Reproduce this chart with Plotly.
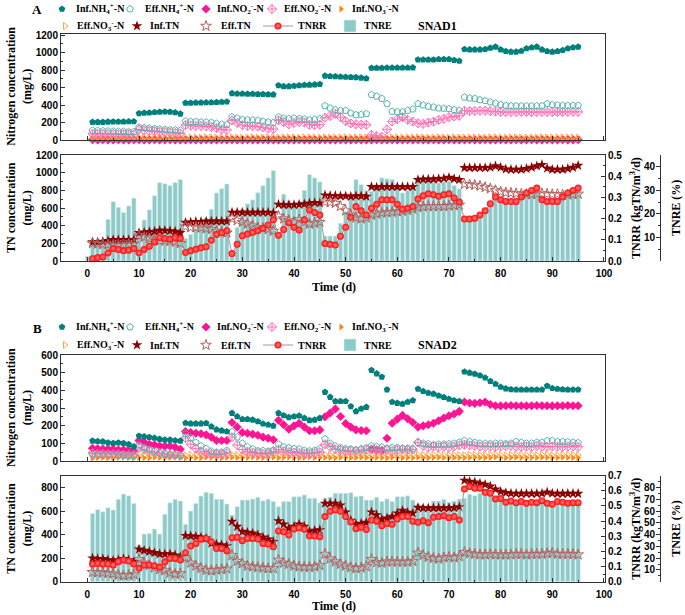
import plotly.graph_objects as go

W, H = 685, 615

# ---------------- data ----------------
days = list(range(1, 96))
days_tnre_a = list(range(0, 96))
days_tnre_b = list(range(1, 96))

# Reactor A (SNAD1)
a_inf_nh4 = [205,205,205,208,210,210,210,212,212,
             305,310,312,318,322,325,322,315,300,
             425,425,428,428,430,430,432,435,438,
             535,530,530,528,528,525,525,522,520,
             625,615,615,620,625,630,632,635,640,
             735,730,728,725,722,720,718,712,705,
             825,825,825,828,828,828,828,828,830,
             920,920,920,920,925,925,925,915,905,
             1040,1036,1036,1036,1040,1055,1067,1036,1017,1010,1010,1020,1048,1060,1067,1036,1017,1010,1017,1028,1048,1060,1067]
a_eff_nh4 = [110,108,105,102,100,100,98,95,95,
             145,140,135,130,125,120,115,115,110,
             215,210,210,205,205,200,190,180,175,
             265,250,235,230,230,225,215,205,200,
             265,250,245,250,245,240,230,235,245,
             392,365,346,338,338,308,288,292,300,
             520,500,475,415,327,323,323,338,354,
             415,400,385,377,365,362,358,346,338,
             490,480,475,460,450,435,420,405,395,390,390,390,390,390,390,390,415,405,400,395,395,395,395]
a_inf_no2 = [3,2,3,2,2,3,2,2,3, 3,2,2,3,2,2,3,2,2, 2,3,2,2,3,2,2,3,2,
             3,2,2,3,2,2,3,2,2, 2,3,2,2,3,2,2,3,2, 3,2,2,3,2,2,3,2,2,
             2,3,2,2,3,2,2,3,2, 3,2,2,3,2,2,3,2,2,
             2,3,2,2,3,2,2,3,2,2,3,2,2,3,2,2,3,2,2,3,2,2,3]
a_eff_no2 = [70,70,70,68,68,66,66,65,60,
             120,110,105,100,95,90,85,80,75,
             170,165,160,160,155,150,135,120,115,
             225,195,170,160,160,155,145,130,125,
             225,205,180,195,205,200,175,170,175,
             255,275,300,262,215,190,180,175,175,
             58,46,38,123,211,239,262,231,211,
             192,185,200,211,231,242,262,269,277,
             335,330,332,335,335,330,325,322,320,320,320,322,322,320,320,320,320,320,322,322,322,322,322]
a_inf_no3 = [8,9,10,9,8,10,11,9,8, 10,9,8,10,11,9,8,10,9, 9,10,8,9,11,10,9,8,10,
             10,9,8,10,9,11,10,9,8, 9,10,11,9,8,10,9,10,11, 10,9,8,10,9,10,11,9,8,
             9,10,8,9,10,11,9,10,8, 10,9,11,10,8,9,10,11,9,
             9,10,11,9,8,10,9,10,11,9,8,10,9,10,11,10,9,8,10,9,10,11,9]
a_eff_no3 = [25,28,30,27,26,29,31,28,27, 30,28,27,31,29,28,30,32,29, 27,30,29,28,31,30,28,27,30,
             31,29,28,30,32,29,28,30,31, 28,30,31,29,27,30,32,29,28, 30,29,27,31,30,28,29,31,30,
             28,30,29,27,31,30,28,30,29, 31,29,28,30,31,29,28,30,29,
             28,30,31,29,28,30,32,29,28,30,31,29,28,30,29,31,30,28,29,31,30,29,28]
a_inf_tn = [215,215,220,230,240,240,240,240,240,
            320,325,330,335,345,345,340,335,320,
            435,440,445,445,450,450,450,450,450,
            550,550,550,550,550,550,550,550,545,
            640,635,635,635,640,645,655,660,655,
            745,740,740,735,735,730,735,735,730,
            840,835,840,840,840,840,840,840,840,
            920,925,925,925,930,935,945,930,920,
            1055,1055,1055,1055,1055,1060,1075,1060,1040,1035,1035,1035,1045,1060,1075,1090,1050,1035,1035,1035,1045,1060,1080]
a_eff_tn = [200,195,190,185,180,180,185,190,195,
            285,270,255,240,230,230,225,215,200,
            390,380,380,375,370,360,340,330,320,
            480,460,440,420,400,380,370,360,340,
            510,480,460,440,470,440,420,430,440,
            670,665,655,620,570,520,490,480,490,
            520,535,545,550,555,560,565,575,590,
            610,615,620,620,620,620,625,630,635,
            870,865,860,850,835,820,800,785,775,770,765,760,755,755,760,765,760,755,755,750,750,755,760]
a_tnrr = [0.011,0.016,0.019,0.038,0.059,0.054,0.048,0.051,0.059,
          0.038,0.054,0.070,0.090,0.111,0.106,0.103,0.110,0.106,
          0.040,0.048,0.055,0.062,0.067,0.098,0.125,0.133,0.143,
          0.035,0.079,0.119,0.127,0.135,0.143,0.154,0.170,0.194,
          0.122,0.149,0.181,0.159,0.146,0.194,0.241,0.229,0.217,
          0.083,0.079,0.075,0.117,0.159,0.206,0.257,0.237,0.217,
          0.249,0.268,0.289,0.289,0.289,0.268,0.244,0.249,0.257,
          0.292,0.308,0.317,0.313,0.305,0.313,0.317,0.297,0.278,
          0.198,0.198,0.202,0.217,0.237,0.270,0.302,0.289,0.281,0.281,0.281,0.302,0.321,0.333,0.344,0.289,0.281,0.281,0.281,0.302,0.321,0.333,0.344]
a_tnre = [2,
          7.5,7.5,7.5,17.7,25.2,22.8,20.6,23.4,26.7,
          12.5,17.4,21.7,27.7,33.3,32.8,32.0,33.3,34.6,
          9.6,11.3,13.9,14.9,18.0,22.0,28.9,30.7,32.7,
          2.5,14.3,22.0,24.3,26.0,29.0,32.0,35.3,38.4,
          11.0,28.4,25.6,24.6,25.3,30.0,36.7,35.3,33.6,
          10.6,10.6,10.6,16.0,21.0,27.4,34.6,32.4,30.0,
          29.6,31.7,35.3,34.9,34.6,32.4,28.9,30.0,32.1,
          33.9,34.3,34.6,33.4,33.1,33.6,33.9,32.1,30.6,
          18.5,18.5,19.0,20.3,22.0,25.0,27.8,27.0,26.5,26.5,26.5,28.5,30.2,31.0,31.5,27.0,26.5,26.5,26.5,28.5,30.0,31.0,31.5]

# Reactor B (SNAD2)
b_inf_nh4 = [114,112,110,104,101,104,101,95,82,
             142,138,135,130,124,120,120,116,114,
             215,212,212,212,214,195,178,172,167,
             271,252,237,237,233,224,211,205,199,
             271,258,247,252,256,243,230,233,243,
             390,362,338,338,338,309,281,296,305,
             514,495,476,404,334,328,323,334,343,
             408,395,385,380,370,361,351,343,338,
             505,499,493,484,471,452,436,419,410,405,404,404,404,404,404,404,425,412,408,405,404,404,404]
b_eff_nh4 = [38,36,35,35,34,33,32,30,30,
             90,75,65,55,45,40,35,35,30,
             155,130,105,85,70,55,50,50,60,
             165,135,100,80,68,58,58,55,62,
             95,80,75,70,68,60,57,60,70,
             125,100,85,75,70,68,62,68,75,
             85,82,78,72,76,76,72,72,68,
             105,100,97,92,95,95,97,100,106,
             115,110,105,100,100,98,100,100,98,100,110,105,100,100,105,105,115,115,110,110,108,105,103]
b_inf_no2 = [72,70,68,68,66,64,64,62,60,
             116,106,95,91,85,83,85,78,66,
             167,161,157,154,148,135,116,116,116,
             218,192,161,157,152,146,135,129,120,
             230,205,180,199,214,192,171,171,176,
             250,272,295,252,212,192,176,173,171,
             65,60,60,129,214,237,258,239,218,
             192,199,205,214,228,243,256,266,281,
             334,328,326,330,334,320,313,312,313,314,313,313,312,313,314,313,313,312,313,313,314,313,313]
b_eff_no2 = [45,42,42,40,40,38,35,35,35,
             75,65,55,50,45,40,35,32,30,
             130,95,70,55,45,40,38,38,45,
             135,90,65,53,48,44,40,44,53,
             65,55,50,48,45,42,42,45,50,
             95,80,66,62,57,57,58,62,63,
             66,63,59,63,57,63,66,63,66,
             105,85,78,82,78,82,78,82,88,
             92,88,85,82,80,82,80,82,85,85,82,80,82,80,85,82,80,82,82,80,82,82,80]
b_inf_no3 = [15,18,20,17,16,19,21,18,17, 20,18,17,21,19,18,20,22,19, 17,20,19,18,21,20,18,17,20,
             21,19,18,20,22,19,18,20,21, 18,20,21,19,17,20,22,19,18, 20,19,17,21,20,18,19,21,20,
             18,20,19,17,21,20,18,20,19, 21,19,18,20,21,19,18,20,19,
             18,20,21,19,18,20,22,19,18,20,21,19,18,20,19,21,20,18,19,21,20,19,18]
b_eff_no3 = [30,33,35,32,31,34,36,33,32, 35,33,32,36,34,33,35,37,34, 32,35,34,33,36,35,33,32,35,
             36,34,33,35,37,34,33,35,36, 33,35,36,34,32,35,37,34,33, 35,34,32,36,35,33,34,36,35,
             33,35,34,32,36,35,33,35,34, 36,34,33,35,36,34,33,35,34,
             33,35,36,34,33,35,37,34,33,35,36,34,33,35,34,36,35,33,34,36,35,34,33]
b_inf_tn = [200,195,195,185,180,185,195,185,170,
            275,265,255,245,235,235,235,225,210,
            391,388,383,377,369,326,318,312,304,
            511,468,426,417,411,397,377,360,340,
            516,488,454,468,488,468,426,434,440,
            665,665,665,650,590,520,488,495,502,
            590,567,530,539,553,582,604,587,582,
            630,625,625,625,625,625,625,628,635,
            860,850,845,835,825,810,785,765,755,750,748,748,748,748,748,750,760,750,748,748,748,748,748]
b_eff_tn = [80,78,78,72,68,58,52,55,62,
            190,160,140,120,105,95,75,65,70,
            205,160,135,115,100,95,100,105,110,
            225,175,155,135,128,122,118,113,113,
            185,160,150,135,128,125,125,128,140,
            235,195,170,150,135,122,113,118,130,
            190,165,160,170,170,168,168,168,175,
            245,225,210,200,195,205,210,205,215,
            250,240,235,230,230,235,230,230,230,230,235,235,230,235,235,235,240,245,235,235,235,235,230]
b_tnrr = [0.117,0.121,0.117,0.117,0.110,0.132,0.143,0.136,0.117,
          0.088,0.110,0.110,0.106,0.095,0.132,0.154,0.154,0.143,
          0.192,0.236,0.253,0.280,0.286,0.264,0.220,0.220,0.205,
          0.291,0.293,0.271,0.286,0.286,0.282,0.253,0.249,0.231,
          0.335,0.330,0.308,0.348,0.357,0.346,0.302,0.302,0.297,
          0.430,0.465,0.475,0.465,0.430,0.395,0.350,0.360,0.345,
          0.407,0.400,0.370,0.385,0.379,0.414,0.430,0.430,0.400,
          0.392,0.403,0.390,0.425,0.430,0.436,0.423,0.430,0.407,
          0.612,0.628,0.617,0.617,0.590,0.584,0.546,0.550,0.524,0.533,0.522,0.529,0.518,0.524,0.522,0.535,0.518,0.511,0.529,0.524,0.518,0.522,0.522]
b_tnre = [58.0,61.4,59.4,62.8,60.9,69.9,74.4,73.0,66.5,
          31.1,40.5,41.0,44.7,40.5,57.2,67.0,69.9,68.5,
          48.7,60.0,66.5,72.7,75.9,75.0,69.9,69.9,66.0,
          56.6,63.7,69.3,69.3,70.2,71.6,68.8,70.0,68.0,
          63.7,68.0,68.0,72.2,72.2,73.6,70.8,70.8,67.0,
          70.8,72.0,75.0,75.0,75.0,75.6,72.2,72.8,69.3,
          69.3,71.6,68.0,70.2,68.0,72.2,72.2,73.0,69.3,
          65.7,64.5,61.4,68.5,68.5,70.0,67.4,68.5,70.2,
          70.8,74.2,73.0,75.0,74.2,72.8,70.2,69.3,69.0,69.5,69.0,69.5,69.0,69.3,69.0,70.0,69.0,68.5,69.3,69.0,69.0,69.0,69.0]

series_labels = ["Inf.NH<sub>4</sub><sup>+</sup>-N", "Eff.NH<sub>4</sub><sup>+</sup>-N",
                 "Inf.NO<sub>2</sub><sup>-</sup>-N", "Eff.NO<sub>2</sub><sup>-</sup>-N",
                 "Inf.NO<sub>3</sub><sup>-</sup>-N", "Eff.NO<sub>3</sub><sup>-</sup>-N",
                 "Inf.TN", "Eff.TN", "TNRR", "TNRE"]

# ---------------- styling ----------------
SERIF = "Liberation Serif"
SANS = "Liberation Sans"
C_INF_NH4 = "#00807c"
C_EFF_NH4 = "#56b5ad"
C_INF_NO2 = "#ff1493"
C_EFF_NO2 = "#ff6fb5"
C_INF_NO3 = "#ff8000"
C_EFF_NO3 = "#ffa54a"
C_INF_TN = "#8b0000"
C_EFF_TN = "#b56060"
C_TNRR = "#ff0a0a"
C_BAR = "#8ecac7"
AXC = "#333333"

def px_x(p):
    return p / W

def px_y(p):
    return 1 - p / H

# legend symbol centres and label starts (px)
sym_row1 = [62, 130, 206, 272, 341]
txt_row1 = [74, 143, 215, 282, 350]
sym_row2 = [65, 137, 206, 278, 350]
txt_row2 = [75, 148, 219, 296, 362]

fig = go.Figure()

panels = [
    dict(tag="A", data=(a_inf_nh4, a_eff_nh4, a_inf_no2, a_eff_no2, a_inf_no3, a_eff_no3,
                        a_inf_tn, a_eff_tn, a_tnrr, a_tnre), tnre_days=days_tnre_a,
         top=(33.5, 140), bot=(155, 261), top_max=1220, top_dtick=200,
         tn_max=1200, tn_dtick=200, tnrr_max=0.5, tnre_max=45,
         leg_y=(9, 26), xa_top="x", xa_bot="x2", ya_top="y", ya_tnre="y3", ya_tn="y2", ya_rr="y4",
         legoff=0, label="SNAD1", time_y=287),
    dict(tag="B", data=(b_inf_nh4, b_eff_nh4, b_inf_no2, b_eff_no2, b_inf_no3, b_eff_no3,
                        b_inf_tn, b_eff_tn, b_tnrr, b_tnre), tnre_days=days_tnre_b,
         top=(355, 461), bot=(475.7, 581.7), top_max=600, top_dtick=100,
         tn_max=900, tn_dtick=200, tnrr_max=0.7, tnre_max=90,
         leg_y=(327, 345), xa_top="x3", xa_bot="x4", ya_top="y5", ya_tnre="y7", ya_tn="y6", ya_rr="y8",
         legoff=10, label="SNAD2", time_y=606),
]

legends = {}
annotations = []

def ann(text, x, y, size=12, angle=0, family=SERIF, xanchor="center"):
    annotations.append(dict(text=text, x=px_x(x), y=px_y(y), xref="paper", yref="paper",
                            showarrow=False, textangle=angle, xanchor=xanchor, yanchor="middle",
                            font=dict(family=family, size=size, color="black", weight="bold")))

for P in panels:
    (inf_nh4, eff_nh4, inf_no2, eff_no2, inf_no3, eff_no3, inf_tn, eff_tn, tnrr, tnre) = P["data"]
    lid = lambda k: "legend" if (P["legoff"] + k) == 0 else "legend%d" % (P["legoff"] + k + 1)

    # legend: one single-symbol legend per series, label as annotation next to it
    for k in range(10):
        if k < 5:
            sx, tx, ly = sym_row1[k], txt_row1[k], P["leg_y"][0]
        else:
            sx, tx, ly = sym_row2[k - 5], txt_row2[k - 5], P["leg_y"][1]
        legends[lid(k)] = dict(x=px_x(sx - 20), y=px_y(ly), xanchor="left", yanchor="middle",
                               orientation="h", bgcolor="rgba(0,0,0,0)", borderwidth=0,
                               itemwidth=30,
                               font=dict(family=SERIF, size=10, color="black"))
        ann(series_labels[k], tx, ly, size=10, xanchor="left")

    fig.add_trace(go.Bar(x=P["tnre_days"], y=tnre, name="", xaxis=P["xa_bot"], yaxis=P["ya_tnre"],
                         marker=dict(color=C_BAR, line=dict(color="#d6eeee", width=0.6)),
                         width=0.82, legend=lid(9)))

    def sc(y, k, xa, ya, symbol, color, size, lw=1, mode="markers", line=None, extra=None):
        m = dict(symbol=symbol, color=color, size=size, line=dict(color=color, width=lw))
        if extra:
            m.update(extra)
        fig.add_trace(go.Scatter(x=days, y=y, name="", mode=mode, xaxis=xa, yaxis=ya,
                                 marker=m, line=line, legend=lid(k), cliponaxis=False))

    sc(inf_no2, 2, P["xa_top"], P["ya_top"], "diamond", C_INF_NO2, 7, 0)
    sc(inf_no3, 4, P["xa_top"], P["ya_top"], "triangle-right", C_INF_NO3, 6, 0)
    sc(eff_no3, 5, P["xa_top"], P["ya_top"], "triangle-right-open", C_EFF_NO3, 6, 1)
    sc(eff_no2, 3, P["xa_top"], P["ya_top"], "diamond-cross-open", C_EFF_NO2, 7, 1)
    sc(eff_nh4, 1, P["xa_top"], P["ya_top"], "pentagon-open", C_EFF_NH4, 7, 1)
    sc(inf_nh4, 0, P["xa_top"], P["ya_top"], "pentagon", C_INF_NH4, 7, 0)

    sc(inf_tn, 6, P["xa_bot"], P["ya_tn"], "star", C_INF_TN, 8, 0)
    sc(eff_tn, 7, P["xa_bot"], P["ya_tn"], "star-open", C_EFF_TN, 8, 1)
    sc(tnrr, 8, P["xa_bot"], P["ya_rr"], "circle", C_TNRR, 7, 0, mode="lines+markers",
       line=dict(color="#9a9a9a", width=1),
       extra=dict(gradient=dict(type="radial", color="#ff8080")))

    ty = (P["top"][0] + P["top"][1]) / 2
    by = (P["bot"][0] + P["bot"][1]) / 2
    ann("Nitrogen concentration<br>(mg/L)", 19, ty, angle=-90)
    ann("TN concentration<br>(mg/L)", 19, by, angle=-90)
    ann("TNRR (kgTN/m<sup>3</sup>/d)", 636, by, angle=-90)
    ann("TNRE (%)", 676, by, angle=-90)
    ann("Time (d)", 334, P["time_y"])
    ann(P["tag"], 37, P["leg_y"][0] + 1, size=13)
    ann(P["label"], 437, P["leg_y"][1], size=12)

# ---------------- axes ----------------
x_dom = [px_x(61), px_x(605)]
x_rng = [-5.1, 100.2]
tickfont = dict(family=SANS, size=10, color="black", weight="bold")

def xaxis(anchor, labels):
    return dict(domain=x_dom, range=x_rng, anchor=anchor, showline=True, linecolor=AXC, linewidth=1,
                mirror=True, ticks="inside", ticklen=4, tickcolor=AXC, dtick=10, tick0=0,
                showticklabels=labels, tickfont=tickfont, showgrid=False, zeroline=False,
                ticklabelstandoff=3,
                minor=dict(dtick=5, ticks="inside", ticklen=2, tickcolor=AXC))

def ylin(dom, rng, dtick, anchor, side="left", overlaying=None, fmt=None, minor=None):
    d = dict(range=rng, anchor=anchor, side=side, showline=True, linecolor=AXC, linewidth=1,
             ticks="inside", ticklen=4, tickcolor=AXC, dtick=dtick, tick0=0, tickfont=tickfont,
             showgrid=False, zeroline=False,
             minor=dict(dtick=minor if minor else dtick / 2, ticks="inside", ticklen=2, tickcolor=AXC))
    if overlaying:
        d["overlaying"] = overlaying
    else:
        d["domain"] = dom
    if fmt:
        d["tickformat"] = fmt
    return d

layout_axes = {}
for P, (xt, xb, yt, ytn, ytnre, yrr) in zip(panels, [("xaxis", "xaxis2", "yaxis", "yaxis2", "yaxis3", "yaxis4"),
                                                    ("xaxis3", "xaxis4", "yaxis5", "yaxis6", "yaxis7", "yaxis8")]):
    tdom = [px_y(P["top"][1]), px_y(P["top"][0])]
    bdom = [px_y(P["bot"][1]), px_y(P["bot"][0])]
    layout_axes[xt] = xaxis(P["ya_top"], False)
    layout_axes[xb] = xaxis(P["ya_tnre"], True)
    top_ax = ylin(tdom, [0, P["top_max"]], P["top_dtick"], P["xa_top"])
    top_ax["mirror"] = True
    layout_axes[yt] = top_ax
    tnre_ax = ylin(bdom, [0, P["tnre_max"]], 10, "free", side="right", minor=5)
    tnre_ax["position"] = px_x(660)
    tnre_ax["ticklabelposition"] = "inside"
    layout_axes[ytnre] = tnre_ax
    layout_axes[ytn] = ylin(bdom, [0, P["tn_max"]], P["tn_dtick"], P["xa_bot"], overlaying=P["ya_tnre"])
    layout_axes[yrr] = ylin(bdom, [0, P["tnrr_max"]], 0.1, P["xa_bot"], side="right",
                            overlaying=P["ya_tnre"], fmt=".1f", minor=0.05)

fig.update_layout(width=W, height=H, margin=dict(l=0, r=0, t=0, b=0, autoexpand=False),
                  paper_bgcolor="white", plot_bgcolor="white", showlegend=True,
                  annotations=annotations, barmode="overlay", **legends, **layout_axes)

fig.write_html("out.html", config={"displayModeBar": False},
               post_script="document.body.style.margin='0px';")
